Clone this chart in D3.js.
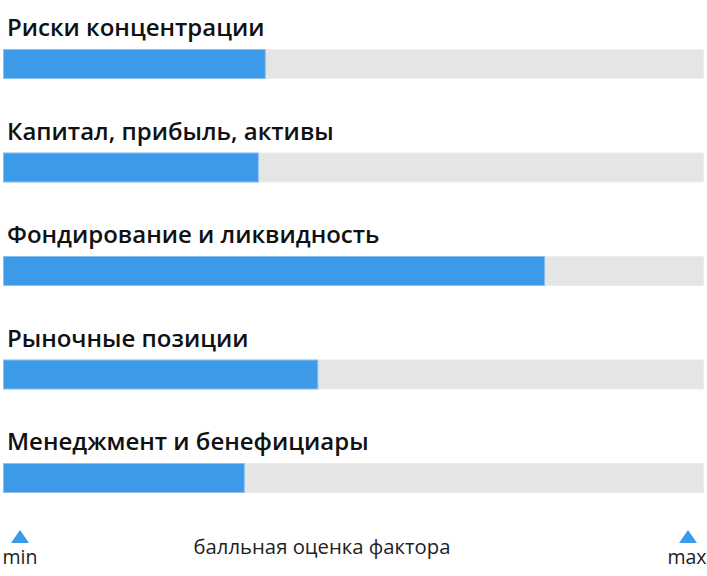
<!DOCTYPE html>
<html><head><meta charset="utf-8">
<script src="https://cdn.jsdelivr.net/npm/d3@7/dist/d3.min.js"></script>
<style>body{margin:0;background:#fff}svg{display:block}</style>
</head><body><svg id="c" width="707" height="576"></svg>
<script>
const categories = ["Риски концентрации","Капитал, прибыль, активы","Фондирование и ликвидность","Рыночные позиции","Менеджмент и бенефициары"];
const values = [37.4, 36.4, 77.3, 44.9, 34.4];
const domainMax = 100;
const axisLabels = {min:"min", max:"max", title:"балльная оценка фактора"};

const svg = d3.select("#c");
const x = d3.scaleLinear().domain([0, domainMax]).range([3.5, 703.5]);
const y = d3.scaleBand().domain(categories).range([0, 517.5]).paddingInner(0).paddingOuter(0);

const g = svg.selectAll("g.row").data(categories).join("g").attr("class","row")
  .attr("transform", d => `translate(0,${y(d)})`);

g.append("text").attr("x", 7).attr("y", 36)
  .attr("font-family","'Open Sans', sans-serif").attr("font-weight",600).attr("font-size",24)
  .attr("fill","#111").text(d => d);

g.append("rect").attr("x", x(0)).attr("y", 49.5).attr("width", x(domainMax)-x(0)).attr("height", 29)
  .attr("fill","#e5e5e5").attr("stroke","#ececec").attr("stroke-width",1);

g.append("rect").attr("x", x(0)).attr("y", 49.5).attr("width", (d,i) => x(values[i])-x(0)).attr("height", 29)
  .attr("fill","#3d9ae8").attr("stroke","#8cc0ee").attr("stroke-width",1);

// bottom legend
function triangle(cx){
  const p = d3.path();
  p.moveTo(cx-9, 543); p.lineTo(cx+9, 543); p.lineTo(cx, 530); p.closePath();
  return p.toString();
}
[[0, axisLabels.min, 20, 20],[domainMax, axisLabels.max, 688, 687]].forEach(([v,t,cx,tx]) => {
  svg.append("path").attr("d", triangle(cx)).attr("fill","#3d9ae8");
  svg.append("text").attr("x", tx).attr("y", 564).attr("text-anchor","middle")
    .attr("font-family","'Open Sans', sans-serif").attr("font-size",19.5).attr("fill","#222").text(t);
});
svg.append("text").attr("x", 322).attr("y", 554).attr("text-anchor","middle")
  .attr("font-family","'Open Sans', sans-serif").attr("font-size",20.3).attr("fill","#222").text(axisLabels.title);
</script></body></html>
